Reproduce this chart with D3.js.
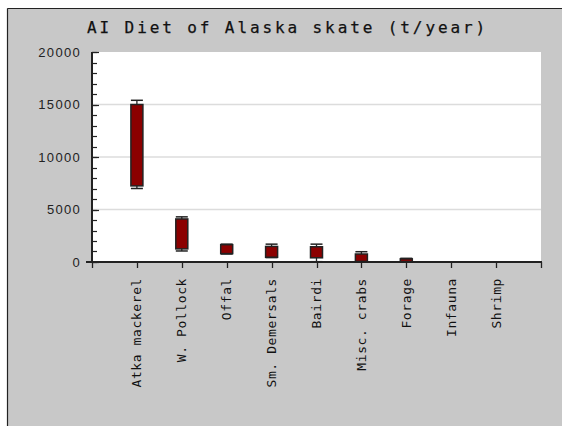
<!DOCTYPE html>
<html>
<head>
<meta charset="utf-8">
<script src="https://cdn.jsdelivr.net/npm/d3@7"></script>
<style>
  html, body { margin: 0; padding: 0; background: #fff; }
  svg { display: block; }
</style>
</head>
<body>
<script>
// Prey groups and the spread of estimated consumption (t/year)
const categories = ["Atka mackerel", "W. Pollock", "Offal", "Sm. Demersals", "Bairdi",
                    "Misc. crabs", "Forage", "Infauna", "Shrimp"];
const whiskerLow  = [7000, 1050, 760, 420, 30, 0, 0, 0, 0];
const boxLow      = [7250, 1250, 800, 450, 400, 60, 40, 0, 0];
const boxHigh     = [15000, 4100, 1650, 1480, 1450, 760, 300, 0, 0];
const whiskerHigh = [15400, 4300, 1700, 1700, 1700, 980, 350, 0, 0];
const majorTicks = [0, 5000, 10000, 15000, 20000];
const minorTicks = d3.range(0, 20001, 1000);
const title = "AI Diet of Alaska skate (t/year)";

const W = 562, H = 426;
const plot = { left: 92, right: 541, top: 52, bottom: 262 };

const svg = d3.select("body").append("svg").attr("width", W).attr("height", H);

// Frame: grey panel with dark top/left edge
svg.append("rect").attr("x", 0).attr("y", 0).attr("width", W).attr("height", H).attr("fill", "#fff");
svg.append("rect").attr("x", 7).attr("y", 8).attr("width", W - 7).attr("height", H - 8).attr("fill", "#c8c8c8");
svg.append("line").attr("x1", 7.5).attr("x2", W).attr("y1", 8.5).attr("y2", 8.5).attr("stroke", "#222").attr("stroke-width", 1.2);
svg.append("line").attr("x1", 7.5).attr("x2", 7.5).attr("y1", 8.5).attr("y2", H).attr("stroke", "#222").attr("stroke-width", 1.2);

// Plot area
svg.append("rect").attr("x", plot.left).attr("y", plot.top)
  .attr("width", plot.right - plot.left).attr("height", plot.bottom - plot.top).attr("fill", "#fff");

const x = d3.scaleLinear().domain([0, categories.length + 1]).range([plot.left, plot.right]);
const y = d3.scaleLinear().domain([0, 20000]).range([plot.bottom, plot.top]);

// Horizontal gridlines
svg.append("g").selectAll("line").data(majorTicks.filter(d => d > 0 && d < 20000)).join("line")
  .attr("x1", plot.left).attr("x2", plot.right)
  .attr("y1", d => y(d)).attr("y2", d => y(d))
  .attr("stroke", "#dcdcdc").attr("stroke-width", 1.5);

// Title
svg.append("text").attr("x", 87).attr("y", 33)
  .attr("font-family", "DejaVu Sans Mono, monospace").attr("font-size", 16)
  .attr("letter-spacing", "2.9px").attr("fill", "#111")
  .attr("stroke", "#111").attr("stroke-width", 0.25)
  .text(title);

// Y axis: minor ticks inward, major ticks longer
const yAxis = svg.append("g");
yAxis.selectAll("line.minor").data(minorTicks).join("line").attr("class", "minor")
  .attr("x1", plot.left).attr("x2", plot.left + 5)
  .attr("y1", d => Math.round(y(d)) + 0.5).attr("y2", d => Math.round(y(d)) + 0.5)
  .attr("stroke", "#222").attr("stroke-width", 1.2);
yAxis.selectAll("line.major").data(majorTicks).join("line").attr("class", "major")
  .attr("x1", plot.left).attr("x2", plot.left + 7)
  .attr("y1", d => Math.round(y(d)) + 0.5).attr("y2", d => Math.round(y(d)) + 0.5)
  .attr("stroke", "#222").attr("stroke-width", 1.2);
yAxis.selectAll("text").data(majorTicks).join("text")
  .attr("x", 81).attr("y", d => y(d) + 4.8)
  .attr("text-anchor", "end")
  .attr("font-family", "Liberation Sans, Arial, sans-serif").attr("font-size", 13)
  .attr("letter-spacing", "1.3px").attr("fill", "#222")
  .text(d => d);
yAxis.append("line").attr("x1", plot.left).attr("x2", plot.left)
  .attr("y1", plot.top).attr("y2", plot.bottom + 1)
  .attr("stroke", "#222").attr("stroke-width", 2);

// X axis with ticks at every slot
const xAxis = svg.append("g");
xAxis.append("line").attr("x1", plot.left - 6).attr("x2", plot.right + 1)
  .attr("y1", plot.bottom).attr("y2", plot.bottom)
  .attr("stroke", "#222").attr("stroke-width", 2);
xAxis.selectAll("line.tick").data(d3.range(0, categories.length + 2)).join("line").attr("class", "tick")
  .attr("x1", d => Math.round(x(d)) + 0.5).attr("x2", d => Math.round(x(d)) + 0.5)
  .attr("y1", plot.bottom).attr("y2", plot.bottom + 6)
  .attr("stroke", "#222").attr("stroke-width", 1.3);
xAxis.selectAll("text").data(categories).join("text")
  .attr("transform", (d, i) => `translate(${x(i + 1) + 4.5},278) rotate(-90)`)
  .attr("text-anchor", "end")
  .attr("font-family", "DejaVu Sans Mono, monospace").attr("font-size", 13)
  .attr("letter-spacing", "0.6px").attr("fill", "#111")
  .text(d => d);

// Boxes with whiskers
const boxW = 12;
const g = svg.append("g");
categories.forEach((c, i) => {
  if (whiskerHigh[i] <= 0) return;
  const cx = x(i + 1);
  g.append("line").attr("x1", cx).attr("x2", cx)
    .attr("y1", y(whiskerHigh[i])).attr("y2", y(whiskerLow[i]))
    .attr("stroke", "#222").attr("stroke-width", 1.3);
  g.append("rect").attr("x", cx - boxW / 2).attr("width", boxW)
    .attr("y", y(boxHigh[i])).attr("height", y(boxLow[i]) - y(boxHigh[i]))
    .attr("fill", "#8b0000").attr("stroke", "#222").attr("stroke-width", 1.5);
  [whiskerHigh[i], whiskerLow[i]].forEach(v => {
    g.append("line").attr("x1", cx - boxW / 2).attr("x2", cx + boxW / 2)
      .attr("y1", y(v)).attr("y2", y(v))
      .attr("stroke", "#222").attr("stroke-width", 1.5);
  });
});
</script>
</body>
</html>
